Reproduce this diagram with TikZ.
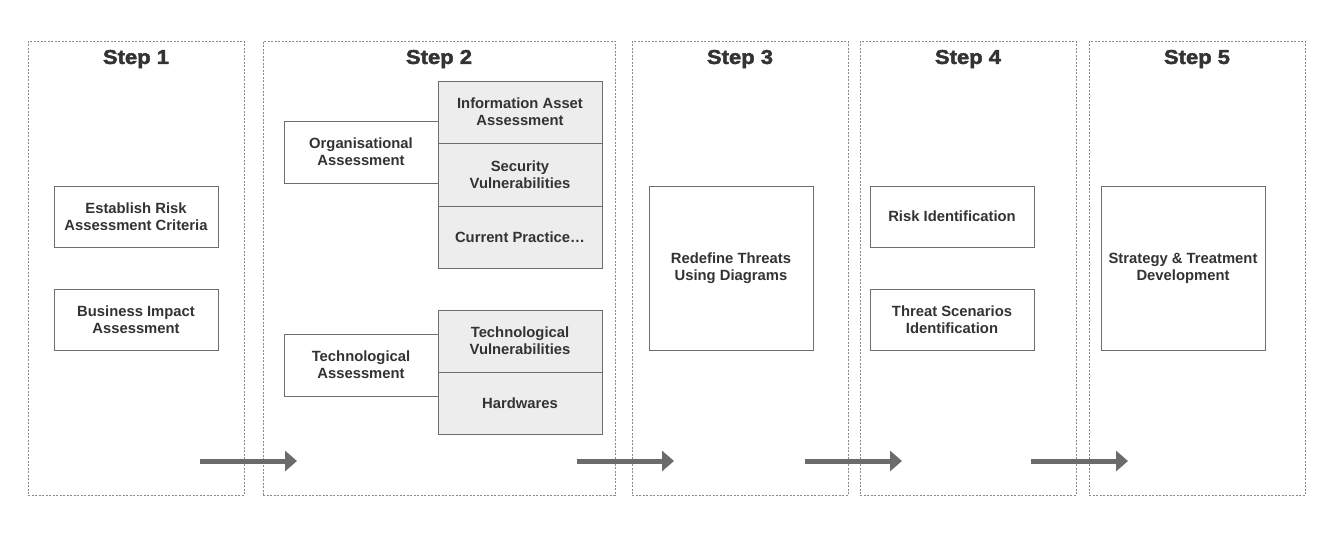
\documentclass[tikz,border=0pt]{standalone}
\usepackage{fontspec}
\setmainfont{Liberation Sans}
\newfontfamily\titlefont{Liberation Sans}[BoldFeatures={FakeBold=2.2,FakeStretch=1.1}]
\usetikzlibrary{arrows.meta}
\definecolor{txt}{HTML}{333333}
\definecolor{edge}{HTML}{6E6E6E}
\definecolor{fillg}{HTML}{EDEDED}
\definecolor{frame}{HTML}{8A8A8A}
\definecolor{arr}{HTML}{6B6B6B}
\begin{document}
\begin{tikzpicture}[x=1pt,y=-1pt,
  stepframe/.style={draw=frame, dashed, dash pattern=on 2pt off 1.5pt, line width=0.8pt, minimum height=454pt, inner sep=0pt},
  steptitle/.style={font=\titlefont\fontsize{20}{24}\selectfont\bfseries, text=txt},
  wbox/.style={draw=edge, line width=0.8pt, fill=white, align=center, font=\fontsize{14.8}{17}\selectfont\bfseries, text=txt, inner sep=0pt},
  gbox/.style={wbox, fill=fillg, minimum width=164pt},
  flow/.style={draw=arr, line width=5pt, -{Triangle[length=12pt,width=20pt]}}
]
\useasboundingbox (0,0) rectangle (1330,547);
\fill[white] (0,0) rectangle (1330,547);
% frames
\node[stepframe, minimum width=216pt] (f1) at (136,268) {};
\node[stepframe, minimum width=352pt] (f2) at (439,268) {};
\node[stepframe, minimum width=216pt] (f3) at (740,268) {};
\node[stepframe, minimum width=216pt] (f4) at (968,268) {};
\node[stepframe, minimum width=216pt] (f5) at (1197,268) {};
% titles
\node[steptitle] (t1) at (136,59) {Step 1};
\node[steptitle] (t2) at (439,59) {Step 2};
\node[steptitle] (t3) at (740,59) {Step 3};
\node[steptitle] (t4) at (968,59) {Step 4};
\node[steptitle] (t5) at (1197,59) {Step 5};
% step 1
\node[wbox, minimum width=164pt, minimum height=61pt] (est) at (136,216.5) {Establish Risk\\Assessment Criteria};
\node[wbox, minimum width=164pt, minimum height=61pt] (biz) at (136,319.5) {Business Impact\\Assessment};
% step 2
\node[wbox, minimum width=154pt, minimum height=62pt] (org) at (361,152) {Organisational\\Assessment};
\node[gbox, minimum height=62pt] (ia) at (520,112) {Information Asset\\Assessment};
\node[gbox, minimum height=63pt] (sv) at (520,174.5) {Security\\Vulnerabilities};
\node[gbox, minimum height=62pt] (cp) at (520,237) {Current Practice…};
\node[wbox, minimum width=154pt, minimum height=62pt] (tech) at (361,365) {Technological\\Assessment};
\node[gbox, minimum height=62pt] (tv) at (520,341) {Technological\\Vulnerabilities};
\node[gbox, minimum height=62pt] (hw) at (520,403) {Hardwares};
% step 3
\node[wbox, minimum width=164pt, minimum height=164pt] (redef) at (731,268) {Redefine Threats\\Using Diagrams};
% step 4
\node[wbox, minimum width=164pt, minimum height=61pt] (risk) at (952,216.5) {Risk Identification};
\node[wbox, minimum width=164pt, minimum height=61pt] (threat) at (952,319.5) {Threat Scenarios\\Identification};
% step 5
\node[wbox, minimum width=164pt, minimum height=164pt] (strat) at (1183,268) {Strategy \& Treatment\\Development};
% arrows
\coordinate (a1s) at (200,461); \coordinate (a1e) at (297,461);
\coordinate (a2s) at (577,461); \coordinate (a2e) at (674,461);
\coordinate (a3s) at (805,461); \coordinate (a3e) at (902,461);
\coordinate (a4s) at (1031,461); \coordinate (a4e) at (1128,461);
\draw[flow] (a1s) -- (a1e);
\draw[flow] (a2s) -- (a2e);
\draw[flow] (a3s) -- (a3e);
\draw[flow] (a4s) -- (a4e);
\end{tikzpicture}
\end{document}
